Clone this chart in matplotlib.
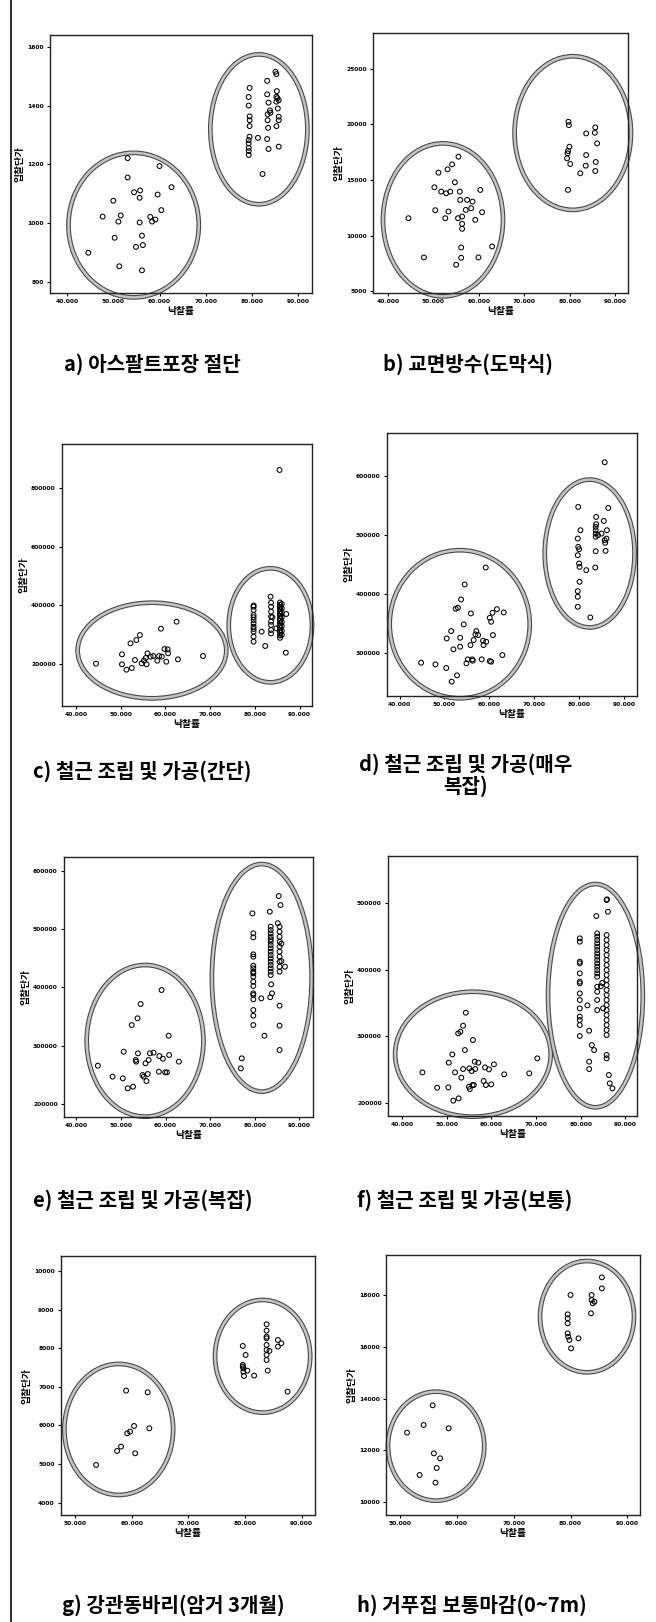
import matplotlib
matplotlib.use("Agg")
import matplotlib.pyplot as plt
from matplotlib.patches import Ellipse
from matplotlib.lines import Line2D
import matplotlib.patheffects as pe

W, H = 656, 1622
KR = ["Noto Sans CJK KR", "DejaVu Sans"]

# ---------------- data ----------------
a_x = [44.6, 47.7, 50.0, 50.3, 51.1, 51.6, 51.3, 53.1, 53.1, 54.5, 55.7, 55.8, 55.7, 56.2, 54.9, 56.4, 56.2,
       58.0, 58.4, 59.1, 59.6, 60.0, 60.4, 62.6,
       79.5, 79.3, 79.3, 79.5, 79.5, 79.5, 79.5, 79.3, 79.3, 79.3, 79.3, 79.3, 81.3, 82.3, 83.3, 83.3, 83.4,
       83.4, 83.5, 83.3, 83.6, 83.6, 83.9, 85.1, 85.3, 85.4, 85.3, 85.3, 85.8, 85.6, 85.8, 85.8, 85.3, 85.8,
       84.0, 85.5]
a_y = [899, 1022, 1076, 950, 1005, 1026, 853, 1155, 1221, 1105, 1086, 1111, 1002, 957, 919, 925, 839,
       1021, 1005, 1012, 1097, 1194, 1044, 1122,
       1460, 1429, 1400, 1363, 1350, 1330, 1294, 1282, 1271, 1256, 1245, 1232, 1290, 1167, 1484, 1438, 1370,
       1350, 1324, 1286, 1252, 1410, 1383, 1515, 1507, 1449, 1413, 1430, 1418, 1390, 1362, 1350, 1330, 1260,
       1375, 1425]

b_x = [44.5, 47.9, 50.2, 50.4, 51.1, 51.7, 52.6, 52.8, 53.1, 53.3, 53.7, 54.1, 54.7, 55.0, 55.4, 55.5,
       55.8, 55.9, 56.1, 56.1, 56.3, 56.3, 56.3, 57.1, 57.4, 58.3, 58.6, 59.2, 59.9, 60.3, 60.7, 62.9,
       79.6, 79.4, 79.5, 79.6, 79.9, 80.1, 79.7, 79.8, 82.3, 83.5, 83.6, 83.6, 85.6, 85.5, 85.6, 85.7, 86.0]
b_y = [11567, 8045, 14343, 12284, 15657, 13955, 11567, 13806, 15955, 12164, 13955, 16403, 14791, 7388,
       11567, 17090, 13955, 13209, 8940, 8015, 11716, 11060, 10612, 12313, 13209, 12463, 13060, 11418,
       8045, 14104, 12104, 9030,
       14104, 16940, 17388, 17597, 17985, 16433, 20224, 19925, 15597, 16284, 17239, 19179, 19716, 19239,
       15806, 16612, 18283]

c_x = [44.5, 50.3, 50.3, 51.3, 52.2, 52.5, 53.2, 53.5, 54.3, 54.7, 55.2, 55.6, 55.8, 56.0, 56.7, 57.3,
       58.2, 58.6, 59.0, 59.2, 59.8, 60.2, 60.5, 60.6, 62.5, 62.8, 68.4,
       79.7, 79.7, 79.7, 79.7, 79.7, 79.7, 79.7, 79.7, 79.7, 79.7, 79.7, 79.7,
       81.5, 82.3, 83.5,
       83.6, 83.6, 83.6, 83.6, 83.6, 83.6, 83.6, 83.6, 84.8, 83.9,
       85.6, 85.6, 85.6, 85.6, 85.6, 85.6, 85.6, 85.6, 85.6, 85.6, 85.6, 85.6, 85.6, 85.6, 85.6, 85.6,
       86.0, 86.0, 86.0, 86.0, 86.0, 86.0, 86.0, 86.0,
       87.0, 86.9, 85.5]
c_y = [202300, 234000, 200000, 181900, 271300, 187500, 214700, 282600, 299600, 203400, 212500, 221500,
       200000, 237400, 226000, 228300, 212500, 228300, 321100, 226000, 252000, 209000, 251000, 237400,
       344900, 217000, 228300,
       395800, 384500, 367500, 350600, 339200, 327900, 310900, 294000, 277000, 400000, 360000, 320000,
       310900, 262300, 429800,
       409400, 395800, 378900, 361900, 344900, 333600, 316600, 305000, 322000, 360000,
       410000, 402000, 395000, 388000, 380000, 372000, 364000, 356000, 348000, 340000, 332000, 324000,
       316000, 308000, 298000, 290000,
       405000, 390000, 376000, 360000, 344000, 330000, 314000, 300000,
       370900, 239600, 860000]

d_x = [44.8, 48.0, 50.4, 50.5, 51.5, 51.6, 52.0, 52.8, 52.5, 53.0, 53.5, 53.5, 53.7, 54.3, 54.5, 54.9,
       55.2, 55.8, 55.9, 56.2, 56.3, 56.5, 56.9, 57.1, 57.5, 58.3, 58.6, 58.7, 59.3, 59.2, 60.1, 60.4,
       60.1, 60.4, 60.7, 60.8, 61.7, 63.2, 62.9,
       79.8, 79.7, 79.7, 79.8, 80.0, 80.0, 80.1, 80.1, 79.7, 79.7, 79.7, 80.3, 81.6, 82.5, 83.6, 83.7,
       83.8, 83.8, 83.7, 83.7, 83.7, 83.7, 84.2, 85.0, 85.5, 85.7, 85.7, 85.8, 86.1, 86.2, 85.9, 86.5]
d_y = [283000, 280200, 274000, 324300, 336800, 250800, 305700, 261500, 374700, 376400, 310200, 325500,
       390600, 348100, 416000, 281900, 288700, 313000, 366800, 288700, 286400, 321500, 331100, 336800,
       330000, 288700, 320400, 313000, 318700, 444900, 285800, 284700, 359400, 352600, 367900, 330000,
       374100, 368500, 296000,
       547900, 494100, 465800, 479900, 476000, 451700, 446000, 420600, 404700, 395100, 378100, 508300,
       440400, 360000, 444900, 472600, 518500, 530900, 514000, 508300, 502600, 497000, 499800, 502600,
       524100, 623800, 491300, 486800, 494100, 508300, 473200, 546200]

e_x = [44.8, 48.1, 50.4, 50.6, 51.5, 52.4, 52.7, 53.3, 53.4, 53.7, 53.8, 54.4, 54.8, 55.1, 55.5, 55.7,
       56.0, 56.2, 56.5, 57.3, 58.5, 58.6, 59.1, 59.4, 59.9, 60.3, 60.7, 60.8, 63.0,
       79.7, 79.7, 79.7, 79.7, 79.7, 79.7, 79.7, 79.7, 79.7, 79.7, 79.7, 79.7, 79.7, 79.7, 79.7, 79.7, 79.7,
       79.5, 76.9, 77.1, 81.5, 82.2, 83.4,
       83.6, 83.6, 83.6, 83.6, 83.6, 83.6, 83.6, 83.6, 83.6, 83.6, 83.6, 83.6, 83.6, 83.6, 83.6, 83.6,
       83.7, 83.9, 83.5,
       85.6, 85.6, 85.6, 85.6, 85.6, 85.6, 85.6, 85.6, 85.6, 85.6,
       85.6, 85.6, 85.6, 85.4, 85.8, 86.8, 85.2, 86.0, 86.0]
e_y = [265700, 246900, 244000, 289700, 226900, 335400, 229700, 275400, 272600, 346900, 286900, 371400,
       249700, 246900, 269700, 239400, 251400, 275400, 286900, 288000, 255400, 282300, 395400, 277700,
       254300, 254300, 317100, 284000, 272600,
       492600, 485700, 456600, 452600, 437100, 432600, 426900, 424000, 418300, 409700, 402300, 389700,
       386900, 379400, 361100, 351400, 335400,
       526800, 261100, 278300, 381100, 317100, 529700,
       504000, 498300, 492600, 486800, 482300, 478300, 472600, 466900, 461100, 455400, 449700, 444000,
       438300, 432600, 426900, 421100,
       405100, 389700, 383000,
       504000, 495400, 486800, 478300, 469700, 461100, 452600, 444000, 435400, 426900,
       368600, 334300, 292600, 556600, 541100, 435400, 510000, 475000, 445000]

f_x = [44.6, 47.9, 50.4, 50.5, 51.5, 51.3, 51.9, 52.6, 52.7, 53.1, 53.3, 53.7, 53.7, 54.1, 54.3, 55.0,
       55.1, 55.2, 55.6, 55.8, 55.9, 56.1, 56.3, 56.4, 57.1, 58.3, 58.6, 58.8, 59.5, 60.0, 60.6, 62.9,
       68.5, 70.3,
       79.8, 79.8, 79.8, 79.8, 79.8, 79.8, 79.8, 79.8, 79.8, 79.8, 79.8, 79.8, 79.8, 79.8,
       81.5, 81.9, 81.9, 81.9, 82.5, 83.0, 83.5,
       83.7, 83.7, 83.7, 83.7, 83.7, 83.7, 83.7, 83.7, 83.7, 83.7, 83.7, 83.7, 83.7, 83.7, 83.7, 83.7,
       83.7, 83.7, 84.8, 84.5, 85.0,
       85.8, 85.8, 85.8, 85.8, 85.8, 85.8, 85.8, 85.8, 85.8, 85.8, 85.8, 85.8, 85.8, 85.8, 85.8, 85.8,
       85.8, 85.8, 85.8, 85.8, 85.8,
       85.8, 85.9, 86.1, 85.8, 85.8, 86.3, 86.5, 87.1]
f_y = [246300, 223400, 223900, 260800, 204000, 273200, 246300, 304600, 207500, 307100, 238400, 316100,
       251300, 279700, 335500, 224900, 252300, 221400, 248300, 227400, 294700, 227400, 262300, 251300,
       260800, 233400, 253800, 227400, 250800, 228400, 258300, 243400, 244800, 267300,
       446700, 441700, 411800, 409300, 394300, 381900, 379400, 364400, 354500, 342000, 329600, 324600,
       317100, 300700,
       346500, 308600, 262300, 251300, 287200, 279700, 480000,
       454100, 449200, 444200, 439200, 434200, 429200, 424200, 419300, 414300, 409300, 404300, 399300,
       394300, 389300, 374400, 366900, 354500, 339500, 380000, 375000, 342000,
       451600, 444200, 436700, 429200, 421700, 414300, 406800, 399300, 391800, 384400, 376900, 369400,
       361900, 354500, 347000, 339500, 332000, 324600, 317100, 309600, 302200,
       504000, 505000, 486500, 272300, 267300, 242400, 229900, 222400]

g_x = [53.7, 57.4, 58.1, 59.0, 59.2, 59.7, 60.4, 60.6, 62.8, 63.1,
       79.6, 79.6, 79.6, 79.7, 79.7, 79.8, 80.1, 80.4, 81.6, 83.8, 83.8, 83.8, 83.8, 83.8, 83.8, 83.8,
       83.8, 84.0, 84.3, 85.8, 85.8, 86.4, 87.5]
g_y = [4976, 5339, 5451, 6902, 5796, 5839, 5986, 5278, 6858, 5926,
       8059, 7567, 7524, 7480, 7394, 7282, 7826, 7420, 7290, 8620, 8456, 8300, 8258, 8085, 7955, 7826,
       7696, 7420, 7930, 8214, 8042, 8128, 6876]

h_x = [51.3, 53.5, 54.2, 55.8, 56.0, 56.3, 56.5, 57.1, 58.6,
       79.5, 79.5, 79.5, 79.5, 79.6, 79.8, 80.1, 80.0, 81.4, 83.6, 83.7, 83.7, 83.9, 84.2, 85.5, 85.5]
h_y = [12688, 11055, 12984, 13742, 11890, 10759, 11325, 11698, 12855,
       17253, 17099, 16906, 16520, 16391, 16263, 15941, 18000, 16327, 17292, 18000, 17806, 17677, 17742,
       18681, 18256]

# ellipses: (center x, center y, width, height) for the two clusters
a_ell = [(54.4, 993, 28.2, 492), (81.5, 1319, 21.0, 510)]
b_ell = [(52.1, 11418, 26.4, 13732), (80.65, 19209, 25.6, 13792)]
c_ell = [(57.0, 247000, 33.2, 324800), (83.45, 332400, 18.6, 387200)]
d_ell = [(53.4, 348400, 31.2, 251800), (82.35, 468700, 20.0, 251400)]
e_ell = [(55.4, 308300, 26.2, 260000), (81.6, 416300, 22.4, 390200)]
f_ell = [(55.9, 273500, 34.8, 186800), (83.3, 361000, 21.2, 333800)]
g_ell = [(57.7, 5896, 19.2, 3394), (83.1, 7791, 16.8, 2918)]
h_ell = [(56.4, 12167, 16.9, 4206), (82.9, 17163, 16.5, 4296)]

xticks_40 = [40, 50, 60, 70, 80, 90]
xticks_50 = [50, 60, 70, 80, 90]
a_yt = [800, 1000, 1200, 1400, 1600]
b_yt = [5000, 10000, 15000, 20000, 25000]
c_yt = [200000, 400000, 600000, 800000]
d_yt = [300000, 400000, 500000, 600000]
e_yt = [200000, 300000, 400000, 500000, 600000]
f_yt = [200000, 300000, 400000, 500000]
g_yt = [4000, 5000, 6000, 7000, 8000, 9000, 10000]
h_yt = [10000, 12000, 14000, 16000, 18000]

captions = ["a) 아스팔트포장 절단", "b) 교면방수(도막식)", "c) 철근 조립 및 가공(간단)",
            "d) 철근 조립 및 가공(매우\n복잡)", "e) 철근 조립 및 가공(복잡)", "f) 철근 조립 및 가공(보통)",
            "g) 강관동바리(암거 3개월)", "h) 거푸집 보통마감(0~7m)"]
x_label = "낙찰률"
y_label = "입찰단가"

# ---------------- layout (pixel boxes: left, top, right, bottom) ----------------
panels = [
    dict(x=a_x, y=a_y, ell=a_ell, xt=xticks_40, yt=a_yt, xl=(36.3, 93.0), yl=(762, 1640), box=(50, 35, 312, 293)),
    dict(x=b_x, y=b_y, ell=b_ell, xt=xticks_40, yt=b_yt, xl=(36.7, 92.8), yl=(4851, 28194), box=(373, 33, 628, 293)),
    dict(x=c_x, y=c_y, ell=c_ell, xt=xticks_40, yt=c_yt, xl=(36.9, 92.75), yl=(58500, 948300), box=(62, 444, 312, 706)),
    dict(x=d_x, y=d_y, ell=d_ell, xt=xticks_40, yt=d_yt, xl=(37.2, 92.9), yl=(226400, 673600), box=(387, 433, 637, 696)),
    dict(x=e_x, y=e_y, ell=e_ell, xt=xticks_40, yt=e_yt, xl=(37.2, 93.1), yl=(177700, 623500), box=(64, 857, 313, 1117)),
    dict(x=f_x, y=f_y, ell=f_ell, xt=xticks_40, yt=f_yt, xl=(36.9, 92.6), yl=(181100, 569800), box=(388, 856, 637, 1116)),
    dict(x=g_x, y=g_y, ell=g_ell, xt=xticks_50, yt=g_yt, xl=(47.5, 92.35), yl=(3680, 10389), box=(61, 1256, 315, 1515)),
    dict(x=h_x, y=h_y, ell=h_ell, xt=xticks_50, yt=h_yt, xl=(47.6, 92.2), yl=(9511, 19543), box=(386, 1255, 640, 1515)),
]
cap_pos = [(64, 364), (383, 364), (33, 771), (359, 775), (33, 1200), (357, 1200), (62, 1605), (357, 1605)]

fig = plt.figure(figsize=(W / 100, H / 100), dpi=100)
fig.patch.set_facecolor("white")

for p in panels:
    L, T, R, B = p["box"]
    ax = fig.add_axes([L / W, 1 - B / H, (R - L) / W, (B - T) / H])
    ax.set_xlim(*p["xl"])
    ax.set_ylim(*p["yl"])
    ax.scatter(p["x"], p["y"], s=12, facecolors="none", edgecolors="black", linewidths=0.75, zorder=3)
    for (cx, cy, w, h) in p["ell"]:
        e = Ellipse((cx, cy), w, h, fill=False, edgecolor="#b0b0b0", linewidth=2.0, zorder=2, clip_on=False)
        e.set_path_effects([pe.Stroke(linewidth=3.4, foreground="#4a4a4a"),
                            pe.Stroke(linewidth=1.8, foreground="#c4c4c4")])
        ax.add_patch(e)
    ax.set_xticks(p["xt"])
    ax.set_xticklabels(["%.3f" % v for v in p["xt"]], fontsize=4.3, fontweight="bold")
    ax.set_yticks(p["yt"])
    ax.set_yticklabels(["%d" % v for v in p["yt"]], fontsize=4.3, fontweight="bold")
    ax.tick_params(length=2.5, width=0.8, pad=2, direction="out")
    for s in ax.spines.values():
        s.set_linewidth(1.0)
        s.set_color("#222222")
    ax.set_xlabel(x_label, family=KR, fontsize=7, fontweight="bold", labelpad=1)
    ax.set_ylabel(y_label, family=KR, fontsize=7, fontweight="bold", labelpad=2)

for (txt, (cx, cy)) in zip(captions, cap_pos):
    fig.text(cx / W, 1 - cy / H, txt, family=KR, fontsize=14.5, fontweight="bold",
             ha="left", va="center", linespacing=1.0,
             multialignment="center")

fig.add_artist(Line2D([11 / W, 11 / W], [0, 1], color="#333333", linewidth=1.5))

fig.savefig("out.png", dpi=100, facecolor="white")
